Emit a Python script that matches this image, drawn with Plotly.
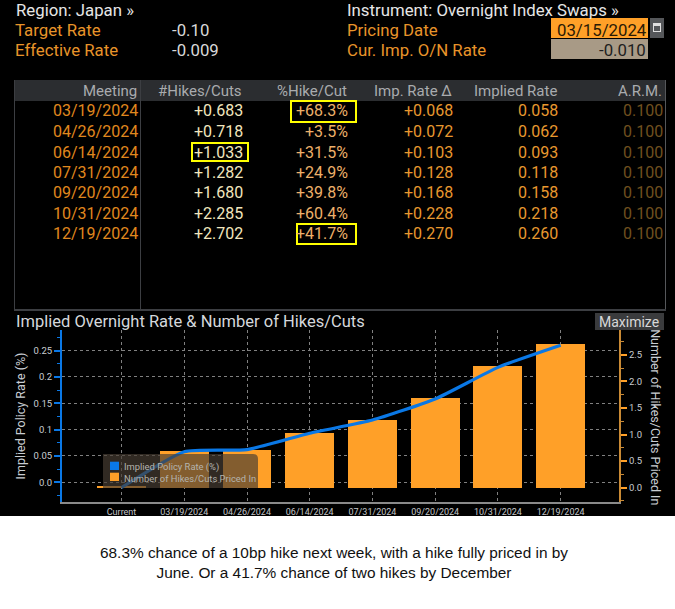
import plotly.graph_objects as go

meetings = ["03/19/2024","04/26/2024","06/14/2024","07/31/2024","09/20/2024","10/31/2024","12/19/2024"]
hikes = ["+0.683","+0.718","+1.033","+1.282","+1.680","+2.285","+2.702"]
pct = ["+68.3%","+3.5%","+31.5%","+24.9%","+39.8%","+60.4%","+41.7%"]
imp_delta = ["+0.068","+0.072","+0.103","+0.128","+0.168","+0.228","+0.270"]
implied = ["0.058","0.062","0.093","0.118","0.158","0.218","0.260"]
arm = ["0.100"]*7
headers = ["Meeting","#Hikes/Cuts","%Hike/Cut","Imp. Rate Δ","Implied Rate","A.R.M."]

categories = ["Current"] + meetings
rate_values = [-0.01,0.058,0.062,0.093,0.118,0.158,0.218,0.260]
hike_values = [0.02,0.683,0.718,1.033,1.282,1.680,2.285,2.702]
caption = "68.3% chance of a 10bp hike next week, with a hike fully priced in by<br>June. Or a 41.7% chance of two hikes by December"

W, H = 675, 609
FONT = "Roboto"
ORANGE = "#E8942A"
BLUE = "#0A78E6"
BAR = "#FFA028"
GREY = "#C9CDD2"

def X(p): return p / W
def Y(p): return 1 - p / H

annotations, shapes = [], []

def text(s, x, y, color, size=16.8, anchor="left", font=FONT, angle=0):
    dx = {"left": -2, "right": 2, "center": 0}[anchor]
    annotations.append(dict(text=s, x=X(x + dx), y=Y(y + 0.7), xref="paper", yref="paper", showarrow=False,
                            xanchor=anchor, yanchor="middle", textangle=angle,
                            font=dict(family=font, size=size, color=color)))

def rect(x0, y0, x1, y1, fill="rgba(0,0,0,0)", line=None, width=1, layer="below"):
    shapes.append(dict(type="rect", xref="paper", yref="paper", x0=X(x0), x1=X(x1), y0=Y(y0), y1=Y(y1),
                       fillcolor=fill, line=dict(color=line or "rgba(0,0,0,0)", width=width if line else 0), layer=layer))

# panel backgrounds
rect(0, 0, 675, 516, "#000000")
rect(14, 80, 665, 101, "#2B2D30")
rect(140, 80, 141, 310, "#3C3E42")
rect(14, 80, 15, 310, "#3C3E42")
rect(665, 80, 666, 310, "#55575A")
rect(14, 309, 666, 311, "#3C3E42")
rect(551, 18, 648, 38, "#FFA028")
rect(650, 18, 664, 38, "#55575A")
rect(653, 23, 661, 32, "#E0E0E0")
rect(654, 26, 660, 31, "#55575A")
rect(551, 39, 648, 59, "#A89A86")
rect(595, 313, 664, 330, "#3A3B3D")

# header block
text("Region: Japan »", 16, 9, "#E6E6E6")
text("Instrument: Overnight Index Swaps »", 347, 9, "#E6E6E6")
text("Target Rate", 15, 29, ORANGE)
text("Effective Rate", 15, 49, ORANGE)
text("-0.10", 172, 29, "#D8D8D8")
text("-0.009", 172, 49, "#D8D8D8")
text("Pricing Date", 347, 29, ORANGE)
text("Cur. Imp. O/N Rate", 347, 49, ORANGE)
text("03/15/2024", 647, 29, "#2A1A05", anchor="right")
text("-0.010", 646, 49, "#1E1E1E", anchor="right")

# table
right_edges = [138, 243, 348, 453, 558, 663]
for h, rx in zip(headers, right_edges):
    text(h, rx - 1, 90, "#A9ABAE", size=15, anchor="right")
row_y = [110, 131, 151.5, 171.5, 192, 212.5, 233]
col_colors = ["#E0881E", "#F2E6BE", "#EDB06A", "#E8982F", "#E8982F", "#70501F"]
columns = [meetings, hikes, pct, imp_delta, implied, arm]
for col, rx, c in zip(columns, right_edges, col_colors):
    for val, ry in zip(col, row_y):
        text(val, rx, ry, c, size=16, anchor="right")

# highlight boxes
rect(291, 101, 356, 122, line="#FFFF00", width=2, layer="above")
rect(192, 143, 248, 161, line="#FFFF00", width=2, layer="above")
rect(297, 224, 356, 244, line="#FFFF00", width=2, layer="above")

# chart heading
text("Implied Overnight Rate & Number of Hikes/Cuts", 16, 321, "#D5D8DC", size=16.5)
text("Maximize", 629, 321.5, "#D8D8D8", size=14, anchor="center")
text(caption, 334, 562, "#111111", size=15.4, anchor="center", font="Liberation Sans")
text("Number of Hikes/Cuts Priced In", 656, 416.5, GREY, size=12.5, anchor="center", angle=90)

# legend panel, drawn over the bars
lx0, ly0, lx1, ly1, r = X(103), Y(454), X(258), Y(488), 5
rx, ry = r / W, r / H
shapes.append(dict(type="path", xref="paper", yref="paper", layer="above", line=dict(width=0),
                   fillcolor="rgba(72,62,52,0.68)",
                   path=f"M {lx0} {ly0} L {lx1 - rx} {ly0} Q {lx1} {ly0} {lx1} {ly0 - ry} L {lx1} {ly1} L {lx0} {ly1} Z"))
rect(110, 461.7, 119, 470, BLUE, layer="above")
rect(110, 472.7, 119, 481, BAR, layer="above")
text("Implied Policy Rate (%)", 123.5, 466.3, "#B4B4AE", size=9.4)
text("Number of Hikes/Cuts Priced In", 123.5, 477.5, "#B4B4AE", size=9.4)

fig = go.Figure()
fig.add_trace(go.Bar(x=categories, y=hike_values, yaxis="y", marker=dict(color=BAR, line_width=0), width=0.78,
                     name="Number of Hikes/Cuts Priced In"))
fig.add_trace(go.Scatter(x=categories, y=rate_values, yaxis="y2", mode="lines", name="Implied Policy Rate (%)",
                         line=dict(color=BLUE, width=3.2, shape="spline", smoothing=0.5)))

fig.update_layout(
    width=W, height=H, margin=dict(l=0, r=0, t=0, b=0), autosize=False, showlegend=False,
    paper_bgcolor="#FFFFFF", plot_bgcolor="rgba(0,0,0,0)", barmode="overlay", bargap=0,
    font=dict(family=FONT, color=GREY), shapes=shapes, annotations=annotations,
    xaxis=dict(domain=[X(62), X(619)], range=[-0.949, 7.93], type="category", categoryorder="array",
               categoryarray=categories, showgrid=True, gridcolor="#808080", griddash="dot", gridwidth=1,
               showline=True, linecolor="#8A8A8A", linewidth=2, ticks="", tickfont=dict(size=9, color="#C4C6C9"),
               zeroline=False, anchor="y"),
    yaxis=dict(domain=[Y(502), Y(330)], range=[-0.27, 2.97], side="right", anchor="x",
               tickvals=[0,0.5,1,1.5,2,2.5], ticktext=["0.0","0.5","1.0","1.5","2.0","2.5"],
               showgrid=False, zeroline=False, showline=True, linecolor="#C98A35", linewidth=2,
               ticks="outside", ticklen=6, tickwidth=2, tickcolor=BAR, tickfont=dict(size=9.5, color=GREY),
               minor=dict(dtick=0.25, ticks="outside", ticklen=3, tickcolor="#C98A35", tickwidth=1)),
    yaxis2=dict(domain=[Y(502), Y(330)], range=[-0.0375, 0.289], side="left", overlaying="y", anchor="x",
                tickvals=[0,0.05,0.1,0.15,0.2,0.25], ticktext=["0.0","0.05","0.1","0.15","0.2","0.25"],
                showgrid=True, gridcolor="#808080", griddash="dot", gridwidth=1, zeroline=False,
                showline=True, linecolor=BLUE, linewidth=2,
                ticks="outside", ticklen=6, tickwidth=2, tickcolor=BLUE, tickfont=dict(size=9.5, color=GREY),
                minor=dict(dtick=0.025, ticks="outside", ticklen=3, tickcolor=BLUE, tickwidth=1),
                title=dict(text="Implied Policy Rate (%)", font=dict(size=12.5, color=GREY), standoff=5)),
)
fig.write_html("out.html", config=dict(displayModeBar=False), post_script="document.body.style.margin='0';")
